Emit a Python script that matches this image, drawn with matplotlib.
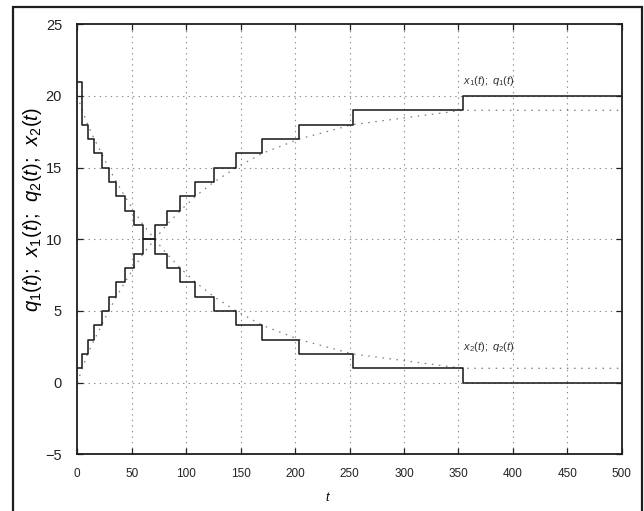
import matplotlib
matplotlib.use("Agg")
import matplotlib.pyplot as plt
from matplotlib.patches import Rectangle

plt.rcParams['font.family'] = ['Liberation Sans', 'DejaVu Sans']
plt.rcParams['mathtext.fontset'] = 'custom'
plt.rcParams['mathtext.it'] = 'Liberation Sans:italic'
plt.rcParams['mathtext.rm'] = 'Liberation Sans'
plt.rcParams['mathtext.default'] = 'it'

# step times (t at which the integer states change)
t_steps = [0, 4.6, 9.5, 15.6, 22.3, 28.7, 36, 43.7, 52, 60.5, 71.2, 82, 94.5,
           108.5, 125.5, 146, 170, 204, 253, 354, 500]
x1_vals = [1, 2, 3, 4, 5, 6, 7, 8, 9, 10, 11, 12, 13, 14, 15, 16, 17, 18, 19, 20, 20]
x2_vals = [21, 18, 17, 16, 15, 14, 13, 12, 11, 10, 9, 8, 7, 6, 5, 4, 3, 2, 1, 0, 0]

# continuous curves (dotted), read at the same times
q1_vals = [0, 1, 2, 3, 4, 5, 6, 7, 8, 9, 10, 11, 12, 13, 14, 15, 16, 17, 18, 19, 19]
q2_vals = [20, 19, 18, 17, 16, 15, 14, 13, 12, 11, 10, 9, 8, 7, 6, 5, 4, 3, 2, 1, 1]

x_ticks = [0, 50, 100, 150, 200, 250, 300, 350, 400, 450, 500]
y_ticks = [-5, 0, 5, 10, 15, 20, 25]

W, H = 644, 511
fig = plt.figure(figsize=(W / 100, H / 100), dpi=100)
ax = fig.add_axes([77.3 / W, 1 - 454.3 / H, (621.7 - 77.3) / W, (454.3 - 24.3) / H])

grid_kw = dict(color='#8a8a8a', lw=0.8, ls=(0, (1.2, 3.8)), zorder=1)
for xv in x_ticks[1:-1]:
    ax.axvline(xv, **grid_kw)
for yv in y_ticks[1:-1]:
    ax.axhline(yv, **grid_kw)

ax.plot(t_steps, q1_vals, color='#7a7a7a', lw=0.9, ls=(0, (1.2, 4.5)), zorder=2)
ax.plot(t_steps, q2_vals, color='#7a7a7a', lw=0.9, ls=(0, (1.2, 4.5)), zorder=2)
ax.step(t_steps, x1_vals, where='post', color='#1e1e1e', lw=1.15, zorder=3)
ax.step(t_steps, x2_vals, where='post', color='#1e1e1e', lw=1.15, zorder=3)

ax.set_xlim(0, 500)
ax.set_ylim(-5, 25)
ax.set_xticks(x_ticks)
ax.set_yticks(y_ticks)
ax.set_yticklabels(['\u22125' if v < 0 else str(v) for v in y_ticks])
ax.tick_params(axis='both', direction='in', length=4, width=0.9, color='#222222',
               top=True, right=True)
ax.tick_params(axis='x', labelsize=8.5, pad=10, labelcolor='#222222')
ax.tick_params(axis='y', labelsize=10.5, pad=11, labelcolor='#222222')
for s in ax.spines.values():
    s.set_linewidth(1.3)
    s.set_color('#1e1e1e')

ax.set_xlabel(r'$t$', fontsize=9)
ax.xaxis.set_label_coords(0.46, -0.085)
ax.set_ylabel(r'$q_1(t);\ \,x_1(t);\ \,q_2(t);\ \,x_2(t)$', fontsize=14.5)
ax.yaxis.set_label_coords(-0.062, 0.57)

ax.text(354, 21.05, r'$x_1(t);\ q_1(t)$', fontsize=8,
        ha='left', va='center', color='#333333')
ax.text(354, 2.5, r'$x_2(t);\ q_2(t)$', fontsize=8,
        ha='left', va='center', color='#333333')

fig.add_artist(Rectangle((13.3 / W, -0.05), (642 - 13.3) / W, 1.05 - 7.3 / H,
                         transform=fig.transFigure, fill=False, lw=1.6,
                         edgecolor='#1e1e1e', clip_on=False))

fig.savefig('out.png', dpi=100)
